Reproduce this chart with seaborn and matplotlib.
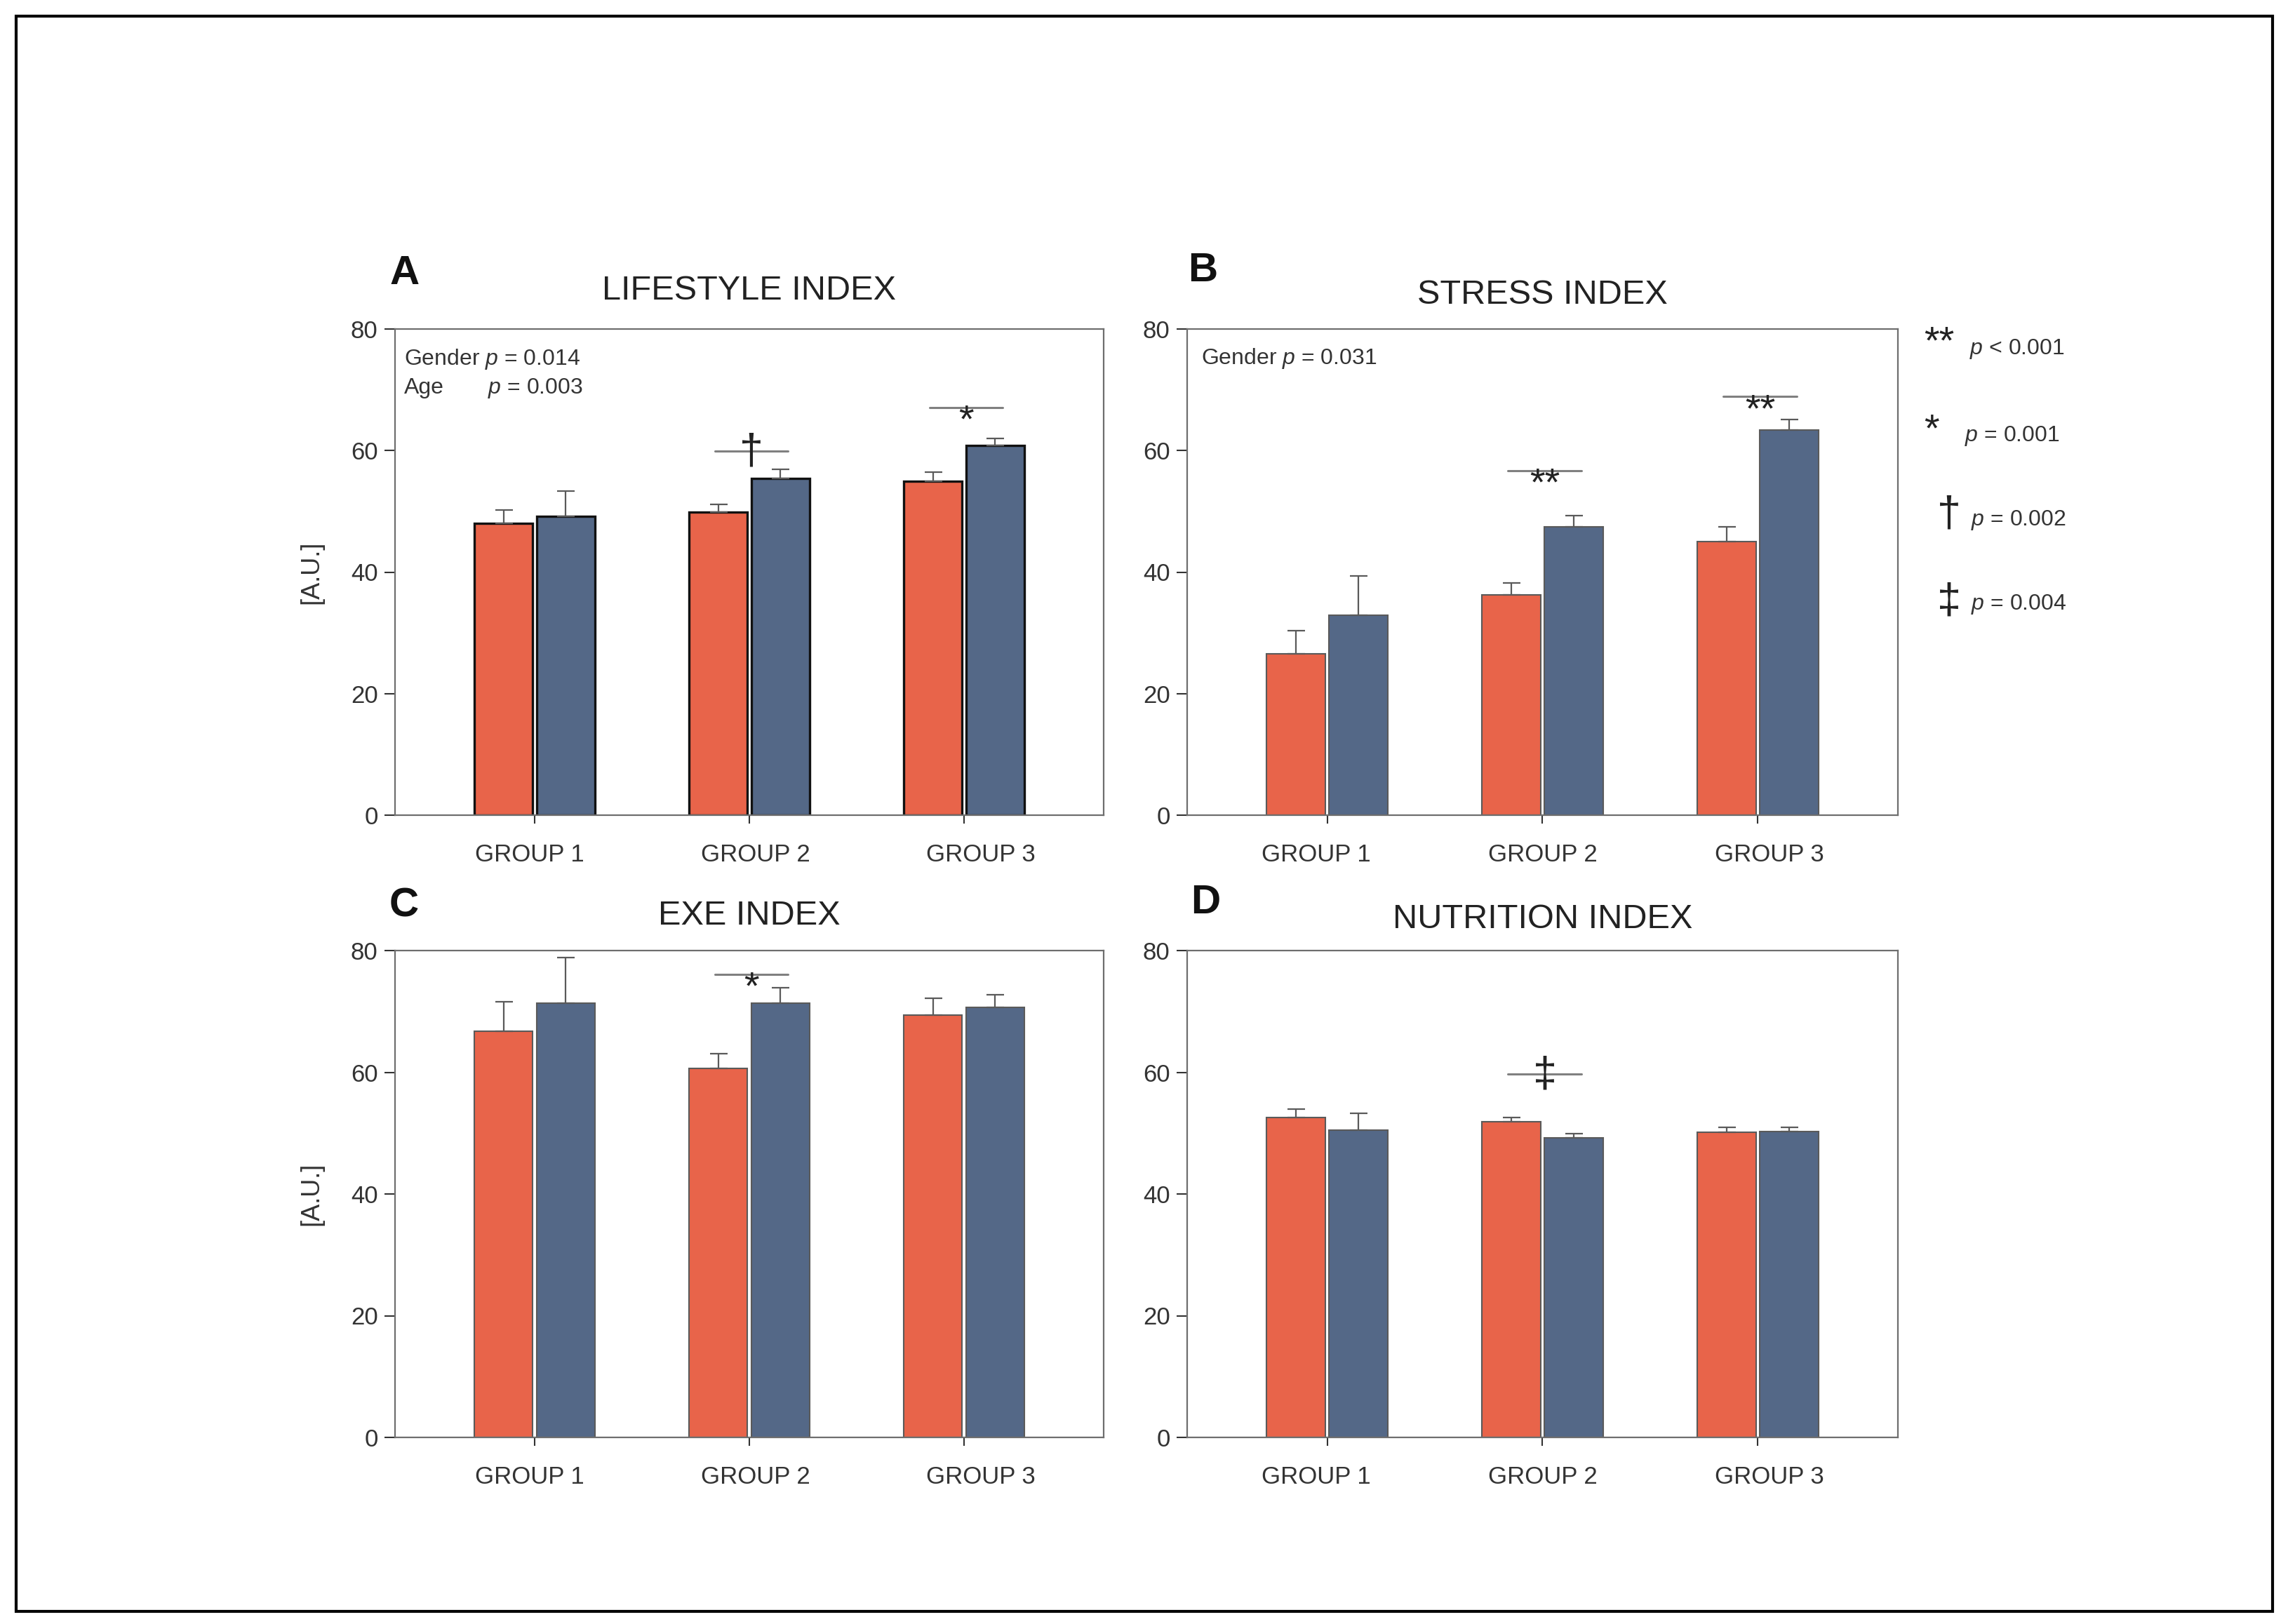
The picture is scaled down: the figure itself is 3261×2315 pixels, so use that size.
import matplotlib
matplotlib.use("Agg")
import matplotlib.pyplot as plt
import matplotlib.transforms as mtransforms
import seaborn as sns
import pandas as pd
from matplotlib.patches import Rectangle

# ---- data ----
groups = ["GROUP 1", "GROUP 2", "GROUP 3"]
series = ["Series 1", "Series 2"]

lifestyle_red = [48.0, 49.9, 54.9]
lifestyle_red_err = [2.2, 1.2, 1.6]
lifestyle_blue = [49.2, 55.4, 60.8]
lifestyle_blue_err = [4.1, 1.5, 1.2]

stress_red = [26.6, 36.2, 45.0]
stress_red_err = [3.8, 2.0, 2.4]
stress_blue = [32.9, 47.4, 63.4]
stress_blue_err = [6.5, 1.9, 1.7]

exe_red = [66.8, 60.6, 69.4]
exe_red_err = [4.8, 2.4, 2.8]
exe_blue = [71.3, 71.3, 70.7]
exe_blue_err = [7.6, 2.6, 2.0]

nutrition_red = [52.6, 51.9, 50.2]
nutrition_red_err = [1.3, 0.7, 0.7]
nutrition_blue = [50.5, 49.2, 50.3]
nutrition_blue_err = [2.8, 0.7, 0.6]

# significance marks: group index, symbol, height of the bracket line
lifestyle_sig_group = [1, 2]
lifestyle_sig_mark = ["\u2020", "*"]
lifestyle_sig_y = [59.9, 67.1]
stress_sig_group = [1, 2]
stress_sig_mark = ["**", "**"]
stress_sig_y = [56.7, 68.9]
exe_sig_group = [1]
exe_sig_mark = ["*"]
exe_sig_y = [76.1]
nutrition_sig_group = [1]
nutrition_sig_mark = ["\u2021"]
nutrition_sig_y = [59.7]

legend_marks = ["**", "*", "\u2020", "\u2021"]
legend_texts = ["$p$ < 0.001", "$p$ = 0.001", "$p$ = 0.002", "$p$ = 0.004"]

RED = "#E8644A"
BLUE = "#546887"

sns.set_theme(style="white")
plt.rcParams["font.family"] = ["Liberation Sans", "DejaVu Sans"]
plt.rcParams["mathtext.fontset"] = "custom"
plt.rcParams["mathtext.it"] = "Liberation Sans:italic"
plt.rcParams["mathtext.rm"] = "Liberation Sans"

fig = plt.figure(figsize=(32.62, 23.15), dpi=100)
W, H = 3262.0, 2315.0


def axes_px(x0, y0, x1, y1):
    return fig.add_axes([x0 / W, 1 - y1 / H, (x1 - x0) / W, (y1 - y0) / H])


def mark_offset(m, fs):
    # shift from bracket line to text baseline so that the glyph sits on the line
    if "*" in m:
        return -(0.58 * fs) - 2
    return -(0.29 * fs)


def panel(ax, red, red_err, blue, blue_err, sig_g, sig_m, sig_y,
          title, letter, title_pad, letter_xy, ylabel, edge, elw, label_shift):
    df = pd.DataFrame({
        "group": groups * 2,
        "series": [series[0]] * 3 + [series[1]] * 3,
        "value": red + blue,
    })
    sns.barplot(data=df, x="group", y="value", hue="series", order=groups,
                hue_order=series, palette=[RED, BLUE], saturation=1,
                width=0.58, gap=0.06, errorbar=None, legend=False,
                edgecolor=edge, linewidth=elw, ax=ax)
    errs = [red_err, blue_err]
    for p in ax.patches:
        cx = p.get_x() + p.get_width() / 2
        g = int(round(cx))
        s = 0 if cx < g else 1
        ax.errorbar(cx, p.get_height(), yerr=[[0], [errs[s][g]]], fmt="none",
                    ecolor="#5a5a5a", elinewidth=1.6, capsize=9, capthick=1.6, zorder=1)
    for g, m, y in zip(sig_g, sig_m, sig_y):
        ax.plot([g - 0.16, g + 0.18], [y, y], color="#808080", lw=2.2, zorder=3)
        fs = 40 if "*" in m else 44
        ax.annotate(m, xy=(g + 0.01, y), xytext=(0, mark_offset(m, fs)),
                    textcoords="offset points", ha="center", va="baseline",
                    fontsize=fs, color="#222222", zorder=4)
    ax.set_xlim(-0.65, 2.65)
    ax.set_ylim(0, 80)
    ax.set_yticks([0, 20, 40, 60, 80])
    ax.set_xlabel("")
    ax.set_ylabel(ylabel, fontsize=26, labelpad=28, color="#333333")
    ax.tick_params(axis="x", length=8.5, width=1.5, pad=20, labelsize=25,
                   colors="#333333", direction="out", bottom=True)
    ax.tick_params(axis="y", length=10.5, width=1.5, pad=7, labelsize=25,
                   colors="#333333", direction="out", left=True)
    # the group labels sit a little spread out from their ticks, as in the source
    for lab, dx in zip(ax.get_xticklabels(), label_shift):
        lab.set_transform(lab.get_transform() +
                          mtransforms.ScaledTranslation(dx / 100, 0, fig.dpi_scale_trans))
    for sp in ax.spines.values():
        sp.set_color("#6e6e6e")
        sp.set_linewidth(1.6)
    ax.set_title(title, fontsize=35, pad=title_pad, color="#222222")
    ax.text(letter_xy[0], letter_xy[1], letter, transform=ax.transAxes, ha="center",
            va="center", fontsize=42, fontweight="bold", color="#111111")


axA = axes_px(563, 469, 1573, 1162)
axB = axes_px(1692, 469, 2705, 1162)
axC = axes_px(563, 1355, 1573, 2049)
axD = axes_px(1692, 1355, 2705, 2049)

left_shift = [-7, 9, 24]
right_shift = [-16, 0, 16]

panel(axA, lifestyle_red, lifestyle_red_err, lifestyle_blue, lifestyle_blue_err,
      lifestyle_sig_group, lifestyle_sig_mark, lifestyle_sig_y,
      "LIFESTYLE INDEX", "A", 30, (0.013, 1.114), "[A.U.]", "#111111", 2.4, left_shift)
panel(axB, stress_red, stress_red_err, stress_blue, stress_blue_err,
      stress_sig_group, stress_sig_mark, stress_sig_y,
      "STRESS INDEX", "B", 26, (0.022, 1.12), "", "#5a5a5a", 1.5, right_shift)
panel(axC, exe_red, exe_red_err, exe_blue, exe_blue_err,
      exe_sig_group, exe_sig_mark, exe_sig_y,
      "EXE INDEX", "C", 27, (0.013, 1.092), "[A.U.]", "#5a5a5a", 1.5, left_shift)
panel(axD, nutrition_red, nutrition_red_err, nutrition_blue, nutrition_blue_err,
      nutrition_sig_group, nutrition_sig_mark, nutrition_sig_y,
      "NUTRITION INDEX", "D", 23, (0.026, 1.098), "", "#5a5a5a", 1.5, right_shift)

# covariate notes
axA.text(0.013, 75, "Gender $p$ = 0.014", transform=axA.get_yaxis_transform(),
         fontsize=23, va="center", color="#333333")
axA.text(0.013, 70.3, "Age", transform=axA.get_yaxis_transform(),
         fontsize=23, va="center", color="#333333")
axA.text(0.131, 70.3, "$p$ = 0.003", transform=axA.get_yaxis_transform(),
         fontsize=23, va="center", color="#333333")
axB.text(0.02, 75.2, "Gender $p$ = 0.031", transform=axB.get_yaxis_transform(),
         fontsize=23, va="center", color="#333333")

# key for the significance symbols, right of panel B
sym_xy = [(2764, 503), (2753, 628), (2778, 750), (2778, 874)]
txt_xy = [(2807, 497), (2800, 622), (2809, 741), (2809, 861)]
for m, t, (sx, sy), (tx, ty) in zip(legend_marks, legend_texts, sym_xy, txt_xy):
    fig.text(sx / W, 1 - sy / H, m, ha="center", va="baseline",
             fontsize=40 if "*" in m else 44, color="#222222")
    fig.text(tx / W, 1 - ty / H, t, ha="left", va="center", fontsize=23,
             color="#333333")

# outer frame
fig.patches.append(Rectangle((23 / W, 1 - 2297 / H), (3239 - 23) / W, (2297 - 23) / H,
                             transform=fig.transFigure, fill=False,
                             edgecolor="black", linewidth=3))

fig.savefig("out.png", dpi=100)
